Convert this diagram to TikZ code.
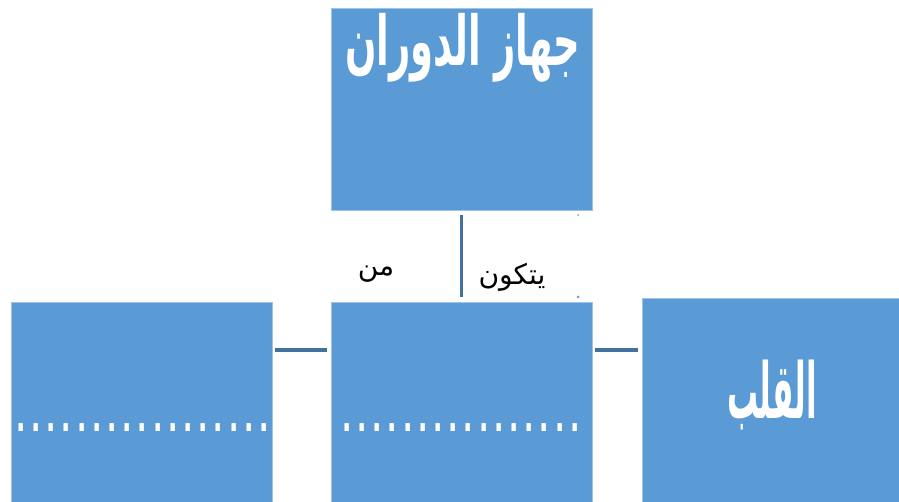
\documentclass[tikz,border=0pt]{standalone}
\usepackage{fontspec}
\setmainfont{DejaVu Sans}
\newfontfamily\arabicfont[Script=Arabic]{DejaVu Sans}
\TeXXeTstate=1
\definecolor{boxblue}{HTML}{5B9BD5}
\definecolor{linkblue}{HTML}{41719C}
\newcount\dotcount
\newcommand\dotrow[1]{\dotcount=0 \loop\ifnum\dotcount<#1 \makebox[0.304cm]{.}\advance\dotcount by 1 \repeat}

\begin{document}
\begin{tikzpicture}[x=0.02cm, y=-0.02cm,
	blockbox/.style={fill=boxblue, draw=boxblue!60!white, line width=0.4pt, inner sep=0pt},
	bigtext/.style={text=white, inner sep=0pt, font=\arabicfont\bfseries\fontsize{25}{30}\selectfont},
	dotline/.style={text=white, font=\bfseries\fontsize{14}{16}\selectfont, inner sep=0pt},
	smalltext/.style={text=black, font=\arabicfont\fontsize{16}{19}\selectfont},
	link/.style={draw=linkblue, line width=2.2pt}]
	\useasboundingbox (0,0) rectangle (899,502);
	\clip (0,0) rectangle (899,502);
	% boxes
	\node[blockbox, minimum width=5.22cm, minimum height=4.04cm] (system) at (461.5,109) {};
	\node[blockbox, minimum width=5.22cm, minimum height=4cm] (parts) at (461.5,402) {};
	\node[blockbox, minimum width=5.22cm, minimum height=4cm] (other) at (141.5,402) {};
	\node[blockbox, minimum width=5.14cm, minimum height=4.08cm] (heart) at (770.5,400) {};
	% texts
	\node[bigtext] (title) at (462.5,47.5) {\resizebox*{4.7cm}{1.38cm}{\beginR جهاز الدوران\endR}};
	\node[bigtext] (heartname) at (772,395) {\resizebox*{1.8cm}{1.4cm}{\beginR القلب\endR}};
	\node[dotline] (otherdots) at (142.5,428) {\scalebox{1}[1.7]{\dotrow{17}}};
	\node[dotline] (partsdots) at (461,428) {\scalebox{1}[1.7]{\dotrow{16}}};
	% connectors
	\coordinate (linky) at (0,350);
	\draw[link, line width=1.6pt, shorten <=0.1cm, shorten >=0.1cm] (system.south) -- (parts.north);
	\draw[link, shorten <=0.06cm, shorten >=0.08cm] (other.east |- linky) -- (parts.west |- linky);
	\draw[link, shorten <=0.06cm, shorten >=0.08cm] (parts.east |- linky) -- (heart.west |- linky);
	\node[smalltext] (from) at (376,274) {\beginR من\endR};
	\node[smalltext] (consists) at (512,277) {\beginR يتكون\endR};
	% small marks
	\fill[linkblue!70] (578,215) circle (1);
	\fill[linkblue!70] (578,297) circle (1.5);
\end{tikzpicture}
\end{document}
